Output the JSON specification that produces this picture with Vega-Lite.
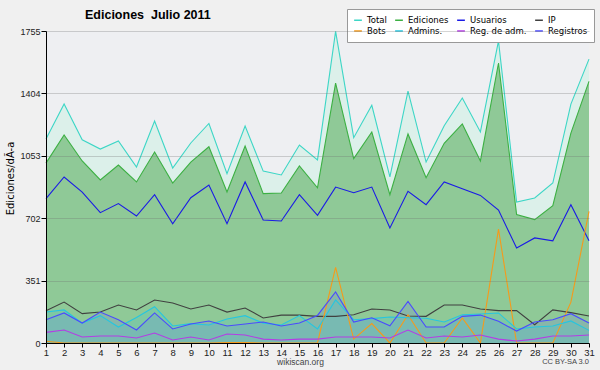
{
  "$schema": "https://vega.github.io/schema/vega-lite/v6.json",
  "width": 543,
  "height": 312,
  "autosize": {"type": "none"},
  "padding": {"left": 46, "top": 31, "right": 11, "bottom": 27},
  "background": "#f0f0f0",
  "title": {"text": "Ediciones \u00a0Julio 2011", "anchor": "start", "frame": "group", "dx": 39, "offset": -13, "font": "Liberation Sans", "fontSize": 12.5, "fontWeight": "bold", "color": "#000"},
  "config": {
    "view": {"fill": "#eeeff2", "stroke": null},
    "axis": {"labelFont": "Liberation Sans", "titleFont": "DejaVu Sans", "domainColor": "#000", "tickColor": "#000", "labelColor": "#222"}
  },
  "data": {"values": [
    {"d": 1, "Total": 1147, "Ediciones": 1012, "Usuarios": 812, "IP": 182, "Bots": 10, "Admins": 174, "RegAdm": 60, "Registros": 131},
    {"d": 2, "Total": 1344, "Ediciones": 1170, "Usuarios": 934, "IP": 230, "Bots": 0, "Admins": 186, "RegAdm": 73, "Registros": 169},
    {"d": 3, "Total": 1143, "Ediciones": 1024, "Usuarios": 849, "IP": 165, "Bots": 0, "Admins": 112, "RegAdm": 34, "Registros": 112},
    {"d": 4, "Total": 1091, "Ediciones": 917, "Usuarios": 733, "IP": 174, "Bots": 0, "Admins": 154, "RegAdm": 39, "Registros": 174},
    {"d": 5, "Total": 1136, "Ediciones": 1001, "Usuarios": 784, "IP": 214, "Bots": 0, "Admins": 90, "RegAdm": 39, "Registros": 131},
    {"d": 6, "Total": 990, "Ediciones": 906, "Usuarios": 714, "IP": 186, "Bots": 0, "Admins": 144, "RegAdm": 28, "Registros": 73},
    {"d": 7, "Total": 1249, "Ediciones": 1074, "Usuarios": 834, "IP": 242, "Bots": 0, "Admins": 204, "RegAdm": 56, "Registros": 169},
    {"d": 8, "Total": 984, "Ediciones": 900, "Usuarios": 671, "IP": 225, "Bots": 0, "Admins": 96, "RegAdm": 17, "Registros": 79},
    {"d": 9, "Total": 1125, "Ediciones": 1018, "Usuarios": 817, "IP": 191, "Bots": 0, "Admins": 109, "RegAdm": 34, "Registros": 107},
    {"d": 10, "Total": 1235, "Ediciones": 1104, "Usuarios": 889, "IP": 214, "Bots": 0, "Admins": 101, "RegAdm": 17, "Registros": 124},
    {"d": 11, "Total": 952, "Ediciones": 849, "Usuarios": 671, "IP": 174, "Bots": 2, "Admins": 135, "RegAdm": 51, "Registros": 96},
    {"d": 12, "Total": 1220, "Ediciones": 1108, "Usuarios": 906, "IP": 197, "Bots": 3, "Admins": 154, "RegAdm": 45, "Registros": 107},
    {"d": 13, "Total": 967, "Ediciones": 840, "Usuarios": 692, "IP": 141, "Bots": 0, "Admins": 112, "RegAdm": 22, "Registros": 118},
    {"d": 14, "Total": 945, "Ediciones": 844, "Usuarios": 686, "IP": 157, "Bots": 0, "Admins": 101, "RegAdm": 17, "Registros": 96},
    {"d": 15, "Total": 1114, "Ediciones": 996, "Usuarios": 834, "IP": 157, "Bots": 0, "Admins": 154, "RegAdm": 22, "Registros": 112},
    {"d": 16, "Total": 1030, "Ediciones": 873, "Usuarios": 718, "IP": 150, "Bots": 0, "Admins": 79, "RegAdm": 22, "Registros": 155},
    {"d": 17, "Total": 1753, "Ediciones": 1462, "Usuarios": 877, "IP": 150, "Bots": 425, "Admins": 242, "RegAdm": 34, "Registros": 287},
    {"d": 18, "Total": 1155, "Ediciones": 1037, "Usuarios": 845, "IP": 159, "Bots": 22, "Admins": 131, "RegAdm": 34, "Registros": 118},
    {"d": 19, "Total": 1337, "Ediciones": 1187, "Usuarios": 877, "IP": 191, "Bots": 109, "Admins": 137, "RegAdm": 34, "Registros": 142},
    {"d": 20, "Total": 934, "Ediciones": 834, "Usuarios": 647, "IP": 186, "Bots": 0, "Admins": 146, "RegAdm": 28, "Registros": 97},
    {"d": 21, "Total": 1417, "Ediciones": 1176, "Usuarios": 853, "IP": 152, "Bots": 159, "Admins": 142, "RegAdm": 73, "Registros": 234},
    {"d": 22, "Total": 1018, "Ediciones": 930, "Usuarios": 778, "IP": 150, "Bots": 0, "Admins": 139, "RegAdm": 28, "Registros": 90},
    {"d": 23, "Total": 1222, "Ediciones": 1123, "Usuarios": 906, "IP": 214, "Bots": 0, "Admins": 118, "RegAdm": 39, "Registros": 90},
    {"d": 24, "Total": 1378, "Ediciones": 1232, "Usuarios": 868, "IP": 214, "Bots": 141, "Admins": 159, "RegAdm": 34, "Registros": 150},
    {"d": 25, "Total": 1187, "Ediciones": 1024, "Usuarios": 830, "IP": 191, "Bots": 0, "Admins": 163, "RegAdm": 45, "Registros": 157},
    {"d": 26, "Total": 1699, "Ediciones": 1575, "Usuarios": 748, "IP": 182, "Bots": 641, "Admins": 169, "RegAdm": 22, "Registros": 122},
    {"d": 27, "Total": 793, "Ediciones": 722, "Usuarios": 534, "IP": 182, "Bots": 0, "Admins": 79, "RegAdm": 11, "Registros": 67},
    {"d": 28, "Total": 816, "Ediciones": 694, "Usuarios": 591, "IP": 103, "Bots": 0, "Admins": 90, "RegAdm": 22, "Registros": 118},
    {"d": 29, "Total": 900, "Ediciones": 772, "Usuarios": 575, "IP": 186, "Bots": 0, "Admins": 96, "RegAdm": 39, "Registros": 131},
    {"d": 30, "Total": 1344, "Ediciones": 1181, "Usuarios": 778, "IP": 171, "Bots": 230, "Admins": 124, "RegAdm": 39, "Registros": 165},
    {"d": 31, "Total": 1597, "Ediciones": 1472, "Usuarios": 575, "IP": 152, "Bots": 740, "Admins": 71, "RegAdm": 45, "Registros": 112}
  ]},
  "encoding": {
    "x": {"field": "d", "type": "quantitative",
      "scale": {"domain": [1, 31], "nice": false, "zero": false},
      "axis": {"values": [1,2,3,4,5,6,7,8,9,10,11,12,13,14,15,16,17,18,19,20,21,22,23,24,25,26,27,28,29,30,31],
        "grid": false, "tickSize": 4, "labelFontSize": 9.5, "labelPadding": 0, "labelFlush": false,
        "title": "wikiscan.org", "titleFont": "Liberation Sans", "titleFontSize": 8.5, "titleFontWeight": "normal", "titleColor": "#444",
        "titleX": 254, "titleY": 21, "titleBaseline": "alphabetic", "titleAlign": "center", "zindex": 1}}
  },
  "layer": [
    {"mark": {"type": "area", "color": "#dcf0ea", "opacity": 1},
     "encoding": {"y": {"field": "Total", "type": "quantitative",
       "scale": {"domain": [0, 1755], "nice": false},
       "axis": {"values": [0,87.75,175.5,263.25,351,438.75,526.5,614.25,702,789.75,877.5,965.25,1053,1140.75,1228.5,1316.25,1404,1491.75,1579.5,1667.25,1755],
         "format": "d", "labelExpr": "datum.value % 351 === 0 ? datum.label : ''",
         "tickSize": {"condition": {"test": "datum.value % 351 === 0", "value": 5}, "value": 3},
         "grid": true, "gridColor": "#707070",
         "gridOpacity": {"condition": {"test": "datum.value % 351 === 0", "value": 0.3}, "value": 0},
         "labelFontSize": 9, "labelPadding": 1,
         "title": "Ediciones/dÃ-a", "titleFontSize": 10, "titleFontWeight": "normal", "titleColor": "#000",
         "titleX": -36, "titleY": 147, "titleBaseline": "middle", "titleAlign": "center", "zindex": 1}}}},
    {"mark": {"type": "area", "color": "#8fc997", "opacity": 1},
     "encoding": {"y": {"field": "Ediciones", "type": "quantitative"}}},
    {"mark": {"type": "area", "color": "#6a6aff", "opacity": 0.18},
     "encoding": {"y": {"field": "Registros", "type": "quantitative"}}},
    {"mark": {"type": "area", "color": "#30c8e0", "opacity": 0.18},
     "encoding": {"y": {"field": "Admins", "type": "quantitative"}}},
    {"transform": [{"fold": ["Total", "Ediciones", "Usuarios", "IP", "Bots", "Admins", "RegAdm", "Registros"], "as": ["serie", "valor"]}],
     "mark": {"type": "line", "strokeWidth": 1.1},
     "encoding": {
       "y": {"field": "valor", "type": "quantitative"},
       "color": {"field": "serie", "type": "nominal",
         "scale": {"domain": ["Total", "Ediciones", "Usuarios", "IP", "Bots", "Admins", "RegAdm", "Registros"],
           "range": ["#3dd6c6", "#3cb043", "#1a1ae6", "#404040", "#f59a1b", "#25c6e0", "#b43ce6", "#4a4aff"]},
         "legend": {"orient": "none", "legendX": 301, "legendY": -22, "columns": 4, "direction": "horizontal", "title": null,
           "labelExpr": "datum.label === 'Admins' ? 'Admins.' : datum.label === 'RegAdm' ? 'Reg. de adm.' : datum.label",
           "symbolType": "stroke", "symbolSize": 60, "symbolStrokeWidth": 1.5,
           "labelFont": "DejaVu Sans", "labelFontSize": 8.5, "labelColor": "#000",
           "fillColor": "#ffffff", "strokeColor": "#999999", "padding": 6, "rowPadding": 1, "columnPadding": 5, "labelOffset": 4, "gridAlign": "each"}}
     }},
    {"data": {"values": [{"t": "CC BY-SA 3.0", "d": 31, "v": -117}]},
     "mark": {"type": "text", "align": "right", "baseline": "alphabetic", "fontSize": 7.5, "font": "Liberation Sans", "fill": "#444"},
     "encoding": {"x": {"field": "d", "type": "quantitative"}, "y": {"field": "v", "type": "quantitative"}, "text": {"field": "t", "type": "nominal"}}}
  ]
}
